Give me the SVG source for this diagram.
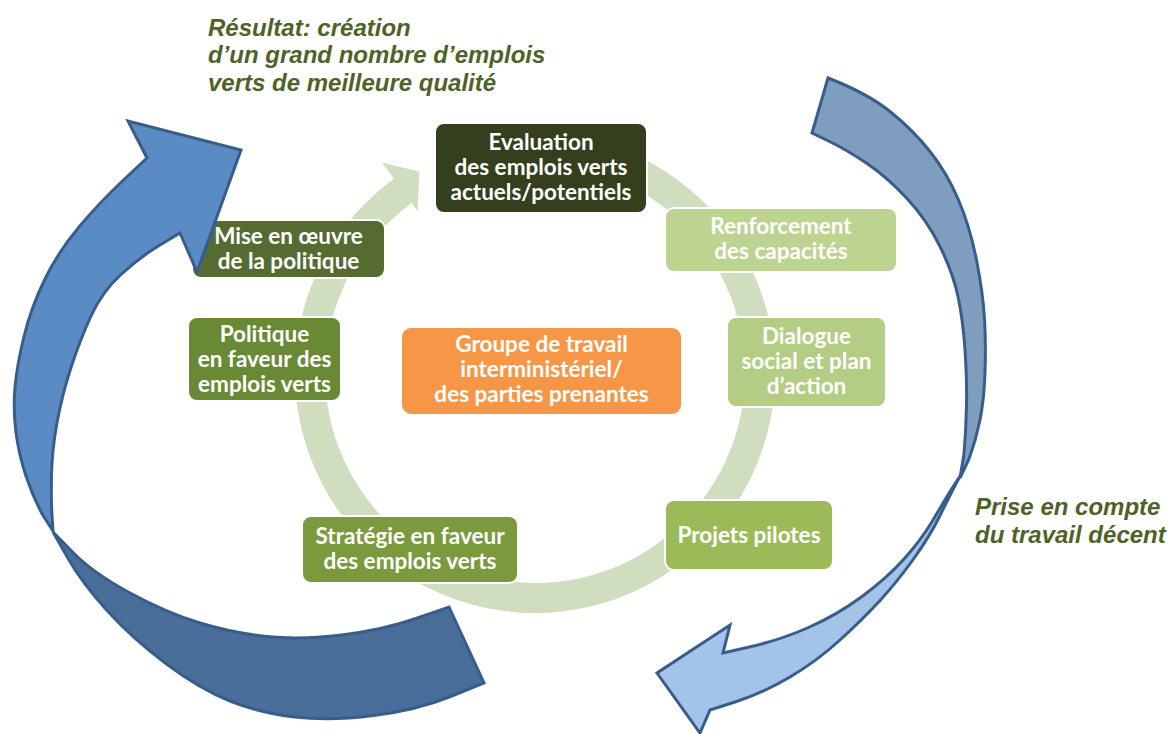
<svg xmlns="http://www.w3.org/2000/svg" width="1169" height="734" viewBox="0 0 1169 734">
  <style>
    .box { stroke: #ffffff; stroke-width: 2; }
    .nt { font-family: Lato, "Open Sans", "Liberation Sans", sans-serif; font-weight: 700; font-size: 22.5px; fill: #ffffff; text-anchor: middle; }
    .cap { font-family: "Liberation Sans", Arial, sans-serif; font-weight: 700; font-style: italic; font-size: 24px; fill: #4f6228; }
    .blue { stroke: #385d8a; stroke-width: 3; stroke-linejoin: miter; stroke-miterlimit: 6; }
  </style>
  <rect width="1169" height="734" fill="#ffffff"/>

  <g id="connectors">
    <!-- light green cycle ring with arrowhead -->
    <path id="cycle-ring" fill="#d0ddbf" d="M 576.7,136.6 A 240,240 0 1 1 393.9,178.8 L 382.2,162.7 L 419.5,171.5 L 417.4,211.2 L 411.6,203.1 A 210,210 0 1 0 571.5,166.2 Z"/>
  </g>

  <g id="node-evaluation">
    <rect class="box" x="435" y="123" width="212" height="90" rx="9" fill="#343f1d"/>
    <text class="nt" x="541" y="150">Evaluation</text>
    <text class="nt" x="541" y="175">des emplois verts</text>
    <text class="nt" x="541" y="200">actuels/potentiels</text>
  </g>
  <g id="node-renforcement">
    <rect class="box" x="665" y="208" width="232" height="64" rx="9" fill="#bdd491"/>
    <text class="nt" x="781" y="234">Renforcement</text>
    <text class="nt" x="781" y="259">des capacités</text>
  </g>
  <g id="node-dialogue">
    <rect class="box" x="727" y="317" width="159" height="90" rx="9" fill="#b3cd85"/>
    <text class="nt" x="806.5" y="344">Dialogue</text>
    <text class="nt" x="806.5" y="369">social et plan</text>
    <text class="nt" x="806.5" y="394">d’action</text>
  </g>
  <g id="node-projets">
    <rect class="box" x="665" y="500" width="168" height="70" rx="9" fill="#9bbb59"/>
    <text class="nt" x="749" y="543">Projets pilotes</text>
  </g>
  <g id="node-strategie">
    <rect class="box" x="302" y="516" width="216" height="67" rx="9" fill="#7b9a3e"/>
    <text class="nt" x="410" y="544">Stratégie en faveur</text>
    <text class="nt" x="410" y="569">des emplois verts</text>
  </g>
  <g id="node-politique">
    <rect class="box" x="188" y="317" width="153" height="84" rx="9" fill="#6a8935"/>
    <text class="nt" x="264.5" y="342">Politique</text>
    <text class="nt" x="264.5" y="367">en faveur des</text>
    <text class="nt" x="264.5" y="392">emplois verts</text>
  </g>
  <g id="node-mise">
    <rect class="box" x="192" y="220" width="193" height="58" rx="9" fill="#556b32"/>
    <text class="nt" x="288.5" y="244">Mise en œuvre</text>
    <text class="nt" x="288.5" y="269">de la politique</text>
  </g>
  <g id="node-groupe">
    <rect class="box" x="401" y="327" width="281" height="88" rx="10" fill="#f79646"/>
    <text class="nt" x="541.5" y="352">Groupe de travail</text>
    <text class="nt" x="541.5" y="377">interministériel/</text>
    <text class="nt" x="541.5" y="402">des parties prenantes</text>
  </g>

  <g id="arrow-left">
    <path class="blue" fill="#4a6e9a" d="M 53,532 L 73,552.5 Q 93,573 130,593 Q 167,613 200,623 Q 233,633 266.5,636.5 Q 300,640 341.5,635 Q 383,630 416,618.5 L 449,607 L 484,683 L 450.5,696.5 Q 417,710 373.5,715.5 Q 330,721 295,717 Q 260,713 230,701 Q 200,689 166.5,664 Q 133,639 107.5,611 Q 82,583 67.5,557.5 Z"/>
    <path class="blue" fill="#5b8bc4" d="M 241,150 L 197,272 L 180,233 L 160,245 Q 140,257 121,274.5 Q 102,292 91,316 Q 80,340 71,367.5 Q 62,395 57,422.5 Q 52,450 51.5,475 Q 51,500 52,515.5 L 53,531 L 42.5,514.5 Q 33,497 26,476 Q 19,455 16,432.5 Q 13,410 15,387.5 Q 17,365 24,336.5 Q 31,308 44.5,280 Q 58,252 79,227 Q 100,202 123.5,180 L 147,158 L 128,121 Z"/>
  </g>

  <g id="arrow-right">
    <path class="blue" fill="#7f9dbf" d="M 828,78 Q 867,93 890,111.5 Q 913,130 930,151.5 Q 947,173 958.5,200 Q 970,227 976.5,260 Q 983,293 984.5,319 Q 986,345 985,372.5 Q 984,400 980,420 Q 976,440 969,459 L 960,478 L 964,454 Q 966,430 966.5,405 Q 967,380 965,350 Q 963,320 958,296.5 Q 953,273 940,246.5 Q 927,220 907,198.5 Q 887,177 867,163.5 Q 847,150 829.5,141.5 L 812,133 Z"/>
    <path class="blue" fill="#a3c4e8" d="M 960,476 L 950,491.5 Q 942,505 931.5,522.5 Q 921,540 904,559 Q 887,578 862,596.5 Q 837,615 808.5,627.5 Q 780,640 751.5,646.5 L 723,653 L 730,625 L 657,673 L 700,733 L 710,710 L 736.5,701.5 Q 763,693 790,677 Q 817,661 840,640 Q 863,619 880,600.5 Q 897,582 913.5,559 Q 930,536 940,515.5 Q 950,495 960,476 Z"/>
  </g>

  <g id="labels">
    <text class="cap" x="208" y="35.5">Résultat: création</text>
    <text class="cap" x="208" y="63">d’un grand nombre d’emplois</text>
    <text class="cap" x="208" y="90.5">verts de meilleure qualité</text>
    <text class="cap" x="975" y="515">Prise en compte</text>
    <text class="cap" x="975" y="543">du travail décent</text>
  </g>
</svg>
